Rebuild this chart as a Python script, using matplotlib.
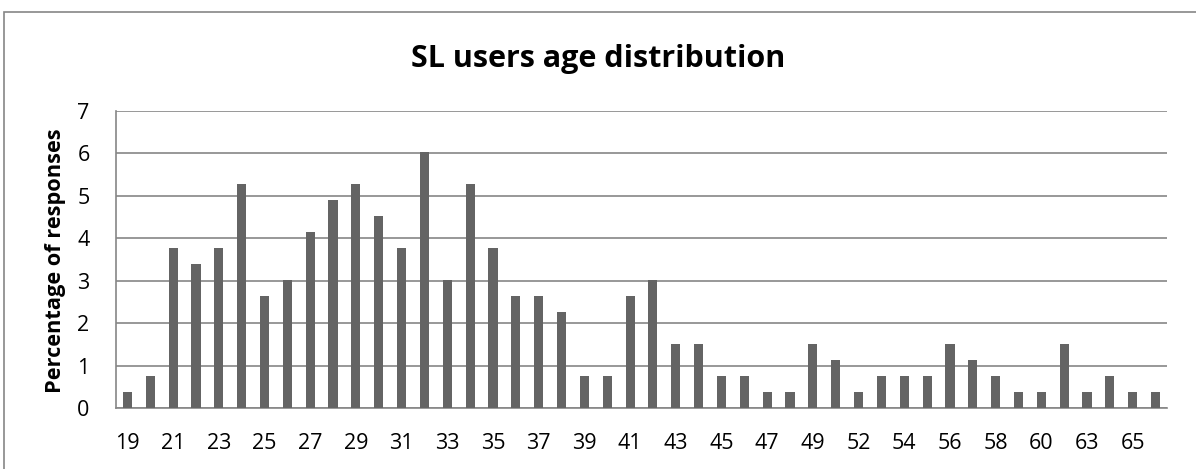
import matplotlib
matplotlib.use("Agg")
import matplotlib.pyplot as plt
import matplotlib.patches as mpatches
import numpy as np

# age categories (51 and 62 have no responses and are not shown)
ages = [19, 20, 21, 22, 23, 24, 25, 26, 27, 28, 29, 30, 31, 32, 33, 34, 35, 36,
        37, 38, 39, 40, 41, 42, 43, 44, 45, 46, 47, 48, 49, 50, 52, 53, 54, 55,
        56, 57, 58, 59, 60, 61, 63, 64, 65, 66]
# percentage of responses
pct = [0.38, 0.75, 3.77, 3.40, 3.77, 5.28, 2.64, 3.02, 4.15, 4.91, 5.28, 4.53,
       3.77, 6.04, 3.02, 5.28, 3.77, 2.64, 2.64, 2.26, 0.75, 0.75, 2.64, 3.02,
       1.51, 1.51, 0.75, 0.75, 0.38, 0.38, 1.51, 1.13, 0.38, 0.75, 0.75, 0.75,
       1.51, 1.13, 0.75, 0.38, 0.38, 1.51, 0.38, 0.75, 0.38, 0.38]

plt.rcParams['font.family'] = ['Open Sans', 'DejaVu Sans']

fig = plt.figure(figsize=(11.96, 4.69), dpi=100)
ax = fig.add_axes([116/1196, 61/469, 1051/1196, 297/469])

x = np.arange(len(ages))
ax.bar(x, pct, width=0.4, color='#646464', zorder=3)

ax.set_xlim(-0.5, len(ages) - 0.5)
ax.set_ylim(0, 7)
ax.set_yticks(range(8))
ax.set_xticks(x[::2])
ax.set_xticklabels([str(a) for a in ages[::2]])
ax.tick_params(axis='both', length=0, labelsize=15.5, colors='black')
ax.tick_params(axis='y', pad=19)
ax.tick_params(axis='x', pad=18)

ax.grid(axis='y', color='#868686', linewidth=1.2, zorder=0)
for s in ['top', 'right']:
    ax.spines[s].set_visible(False)
for s in ['left', 'bottom']:
    ax.spines[s].set_color('#868686')
    ax.spines[s].set_linewidth(1.2)

fig.text(0.5, 1 - 67/469, 'SL users age distribution', ha='center',
         va='baseline', fontsize=22, fontweight='bold')
fig.text(55/1196, 1 - 261/469, 'Percentage of responses', rotation=90,
         ha='center', va='center', fontsize=15.7, fontweight='bold')

# outer chart border (clipped by the image on the right and bottom)
border = mpatches.Rectangle((4/1196, -0.1), 1.2, 1.1 - 12/469,
                            transform=fig.transFigure, fill=False,
                            edgecolor='#868686', linewidth=1.2)
fig.patches.append(border)

fig.savefig('out.png', dpi=100)
